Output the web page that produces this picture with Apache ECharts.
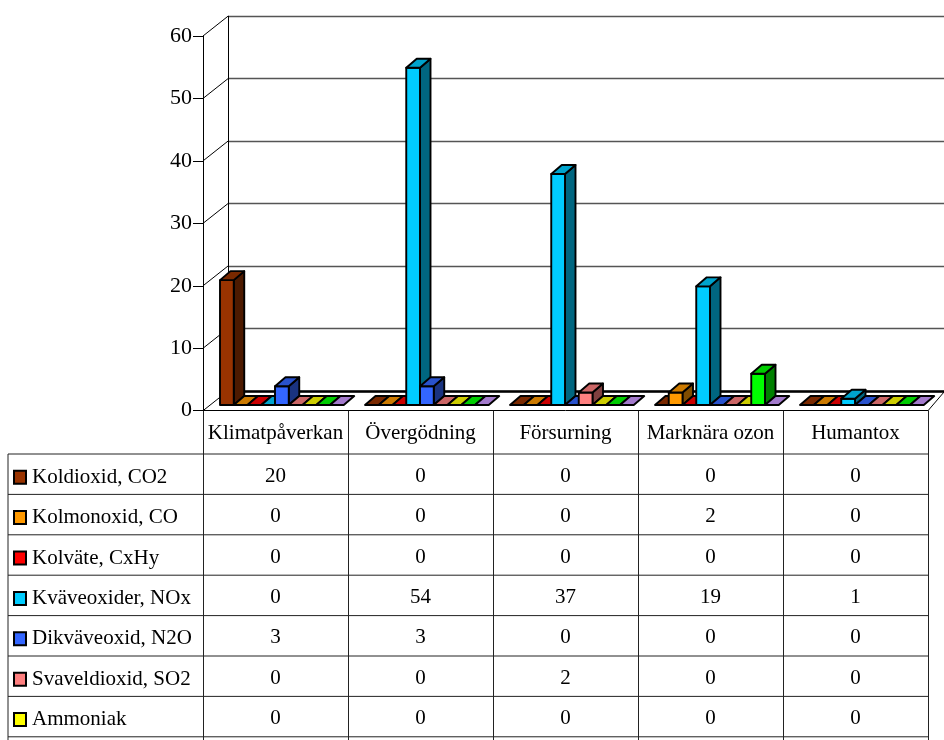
<!DOCTYPE html>
<html>
<head>
<meta charset="utf-8">
<script src="https://cdn.jsdelivr.net/npm/echarts@6/dist/echarts.min.js"></script>
<style>
  html, body { margin: 0; padding: 0; background: #fff; }
  #chart { width: 944px; height: 740px; }
</style>
</head>
<body>
<div id="chart"></div>
<script>
// Impact categories (x axis / table header)
const categories = ['Klimatpåverkan', 'Övergödning', 'Försurning', 'Marknära ozon', 'Humantox'];

// Emission series, one array per substance (same order as categories)
const seriesNames = ['Koldioxid, CO2', 'Kolmonoxid, CO', 'Kolväte, CxHy', 'Kväveoxider, NOx',
  'Dikväveoxid, N2O', 'Svaveldioxid, SO2', 'Ammoniak', 'NMVOC', 'Partiklar'];
const koldioxid    = [20, 0, 0, 0, 0];
const kolmonoxid   = [0, 0, 0, 2, 0];
const kolvate      = [0, 0, 0, 0, 0];
const kvaveoxider  = [0, 54, 37, 19, 1];
const dikvaveoxid  = [3, 3, 0, 0, 0];
const svaveldioxid = [0, 0, 2, 0, 0];
const ammoniak     = [0, 0, 0, 0, 0];
const nmvoc        = [0, 0, 0, 5, 0];
const partiklar    = [0, 0, 0, 0, 0];
const seriesValues = [koldioxid, kolmonoxid, kolvate, kvaveoxider, dikvaveoxid,
  svaveldioxid, ammoniak, nmvoc, partiklar];

// Value axis ticks
const yTicks = [0, 10, 20, 30, 40, 50, 60];

const colors = ['#993300', '#FF9900', '#FF0000', '#00CCFF', '#3366FF',
  '#FF8080', '#FFFF00', '#00FF00', '#CC99FF'];

const FONT = '"Liberation Serif", "Times New Roman", serif';

// Plot geometry (pixels)
const GRID = { left: 203, right: 16, top: 36, bottom: 329.3 };
const WALL = [25, -19.8];          // depth offset of the back wall
const BAR_START = 17 / 145;        // first bar offset inside a category band
const BAR_W = 13.75 / 145;         // bar width as part of a band
const LIFT = 5.7;                  // bars stand slightly behind the front edge
const BAR_DEPTH = [10.5, -9];      // bar depth offset
const HEADER_H = 43.3;             // table header height
const ROW_H = 40.4;                // table row height
const TABLE_LEFT = 8;

function shade(hex, k) {
  const n = parseInt(hex.slice(1), 16);
  const r = Math.round(((n >> 16) & 255) * k);
  const g = Math.round(((n >> 8) & 255) * k);
  const b = Math.round((n & 255) * k);
  return 'rgb(' + r + ',' + g + ',' + b + ')';
}

const edge = { stroke: '#000', lineWidth: 1.9, lineJoin: 'round' };

function barRenderer(sIdx) {
  return function (params, api) {
    const ci = api.value(0);
    const v = api.value(1);
    const band = api.size([1, 0])[0];
    const base = api.coord([ci, 0]);
    const topPt = api.coord([ci, v]);
    const w = band * BAR_W;
    const x0 = base[0] - band / 2 + band * BAR_START + sIdx * w;
    const x1 = x0 + w;
    const yb = base[1] - LIFT;
    const yt = topPt[1] - LIFT;
    const dx = BAR_DEPTH[0], dy = BAR_DEPTH[1];
    const c = colors[sIdx];
    const children = [];
    if (yb - yt > 0.5) {
      children.push({
        type: 'polygon',
        shape: { points: [[x1, yb], [x1 + dx, yb + dy], [x1 + dx, yt + dy], [x1, yt]] },
        style: Object.assign({ fill: shade(c, 0.5) }, edge)
      });
      children.push({
        type: 'rect',
        shape: { x: x0, y: yt, width: w, height: yb - yt },
        style: Object.assign({ fill: c }, edge)
      });
    }
    children.push({
      type: 'polygon',
      shape: { points: [[x0, yt], [x1, yt], [x1 + dx, yt + dy], [x0 + dx, yt + dy]] },
      style: Object.assign({ fill: shade(c, 0.8) }, edge)
    });
    // value cell of the data table
    children.push({
      type: 'text',
      style: {
        text: String(v),
        x: base[0],
        y: base[1] + HEADER_H + sIdx * ROW_H + ROW_H / 2 + 2,
        align: 'center',
        verticalAlign: 'middle',
        fontSize: 21,
        fontFamily: FONT,
        fill: '#000'
      }
    });
    return { type: 'group', children: children };
  };
}

// Side wall lines and floor edges
function frameRenderer(params, api) {
  const v = api.value(1);
  const band = api.size([1, 0])[0];
  const p = api.coord([0, v]);
  const xl = p[0] - band / 2;
  const children = [{
    type: 'line',
    shape: { x1: xl, y1: p[1], x2: xl + WALL[0], y2: p[1] + WALL[1] },
    style: { stroke: '#000', lineWidth: 1 }
  }];
  if (v === 0) {
    const q = api.coord([categories.length - 1, 0]);
    const xr = q[0] + band / 2;
    children.push({
      type: 'line',
      shape: { x1: xr, y1: q[1], x2: xr + GRID.right + 1, y2: q[1] + WALL[1] },
      style: { stroke: '#000', lineWidth: 1 }
    });
  }
  return { type: 'group', children: children };
}

const chart = echarts.init(document.getElementById('chart'), null, { renderer: 'canvas' });

const series = [{
  type: 'custom',
  xAxisIndex: 0,
  yAxisIndex: 0,
  clip: false,
  silent: true,
  z: 1,
  data: yTicks.map(function (t) { return [0, t]; }),
  renderItem: frameRenderer
}];
seriesNames.forEach(function (name, s) {
  series.push({
    type: 'custom',
    name: name,
    xAxisIndex: 0,
    yAxisIndex: 0,
    clip: false,
    z: 3,
    data: seriesValues[s].map(function (v, i) { return [i, v]; }),
    renderItem: barRenderer(s)
  });
});

// Table: row lines, legend keys and substance names
const tableTop = 740 - GRID.bottom + HEADER_H;
const tableRight = 944 - GRID.right;
const graphics = [{
  type: 'line',
  shape: { x1: TABLE_LEFT, y1: tableTop, x2: TABLE_LEFT, y2: 760 },
  style: { stroke: '#222', lineWidth: 1 }
}];
for (let k = 0; k <= seriesNames.length; k++) {
  const y = tableTop + k * ROW_H;
  graphics.push({
    type: 'line',
    shape: { x1: TABLE_LEFT, y1: y, x2: tableRight, y2: y },
    style: { stroke: '#222', lineWidth: 1 }
  });
}
seriesNames.forEach(function (name, s) {
  const cy = tableTop + s * ROW_H + ROW_H / 2;
  graphics.push({
    type: 'rect',
    shape: { x: 14, y: cy - 3.5, width: 12, height: 13 },
    style: { fill: colors[s], stroke: '#000', lineWidth: 2 }
  });
  graphics.push({
    type: 'text',
    style: {
      text: name, x: 32, y: cy + 3, verticalAlign: 'middle',
      fontSize: 21, fontFamily: FONT, fill: '#000'
    }
  });
});

chart.setOption({
  animation: false,
  backgroundColor: '#fff',
  grid: [
    { left: GRID.left, right: GRID.right, top: GRID.top, bottom: GRID.bottom, containLabel: false },
    { left: GRID.left + WALL[0], right: 0, top: GRID.top + WALL[1],
      bottom: GRID.bottom - WALL[1], containLabel: false }
  ],
  xAxis: [{
    type: 'category',
    gridIndex: 0,
    data: categories,
    boundaryGap: true,
    axisLine: { show: true, lineStyle: { color: '#000', width: 1 } },
    axisTick: { show: true, interval: 0, length: 340, lineStyle: { color: '#222', width: 1 } },
    axisLabel: { interval: 0, margin: 12, fontSize: 21, fontFamily: FONT, color: '#000' },
    splitLine: { show: false }
  }, {
    type: 'value',
    gridIndex: 1,
    min: 0, max: 1,
    axisLine: { show: true, onZero: false, lineStyle: { color: '#000', width: 2.5 } },
    axisTick: { show: false },
    axisLabel: { show: false },
    splitLine: { show: false }
  }],
  yAxis: [{
    type: 'value',
    gridIndex: 0,
    min: 0, max: 60, interval: 10,
    axisLine: { show: true, lineStyle: { color: '#000', width: 1 } },
    axisTick: { show: true, length: 10, lineStyle: { color: '#000', width: 1 } },
    axisLabel: { margin: 11, fontSize: 22, fontFamily: FONT, color: '#000' },
    splitLine: { show: false }
  }, {
    type: 'value',
    gridIndex: 1,
    min: 0, max: 60, interval: 10,
    axisLine: { show: true, lineStyle: { color: '#000', width: 1 } },
    axisTick: { show: false },
    axisLabel: { show: false },
    splitLine: { show: true, lineStyle: { color: '#555', width: 1.3 } }
  }],
  graphic: graphics,
  series: series
});
</script>
</body>
</html>
